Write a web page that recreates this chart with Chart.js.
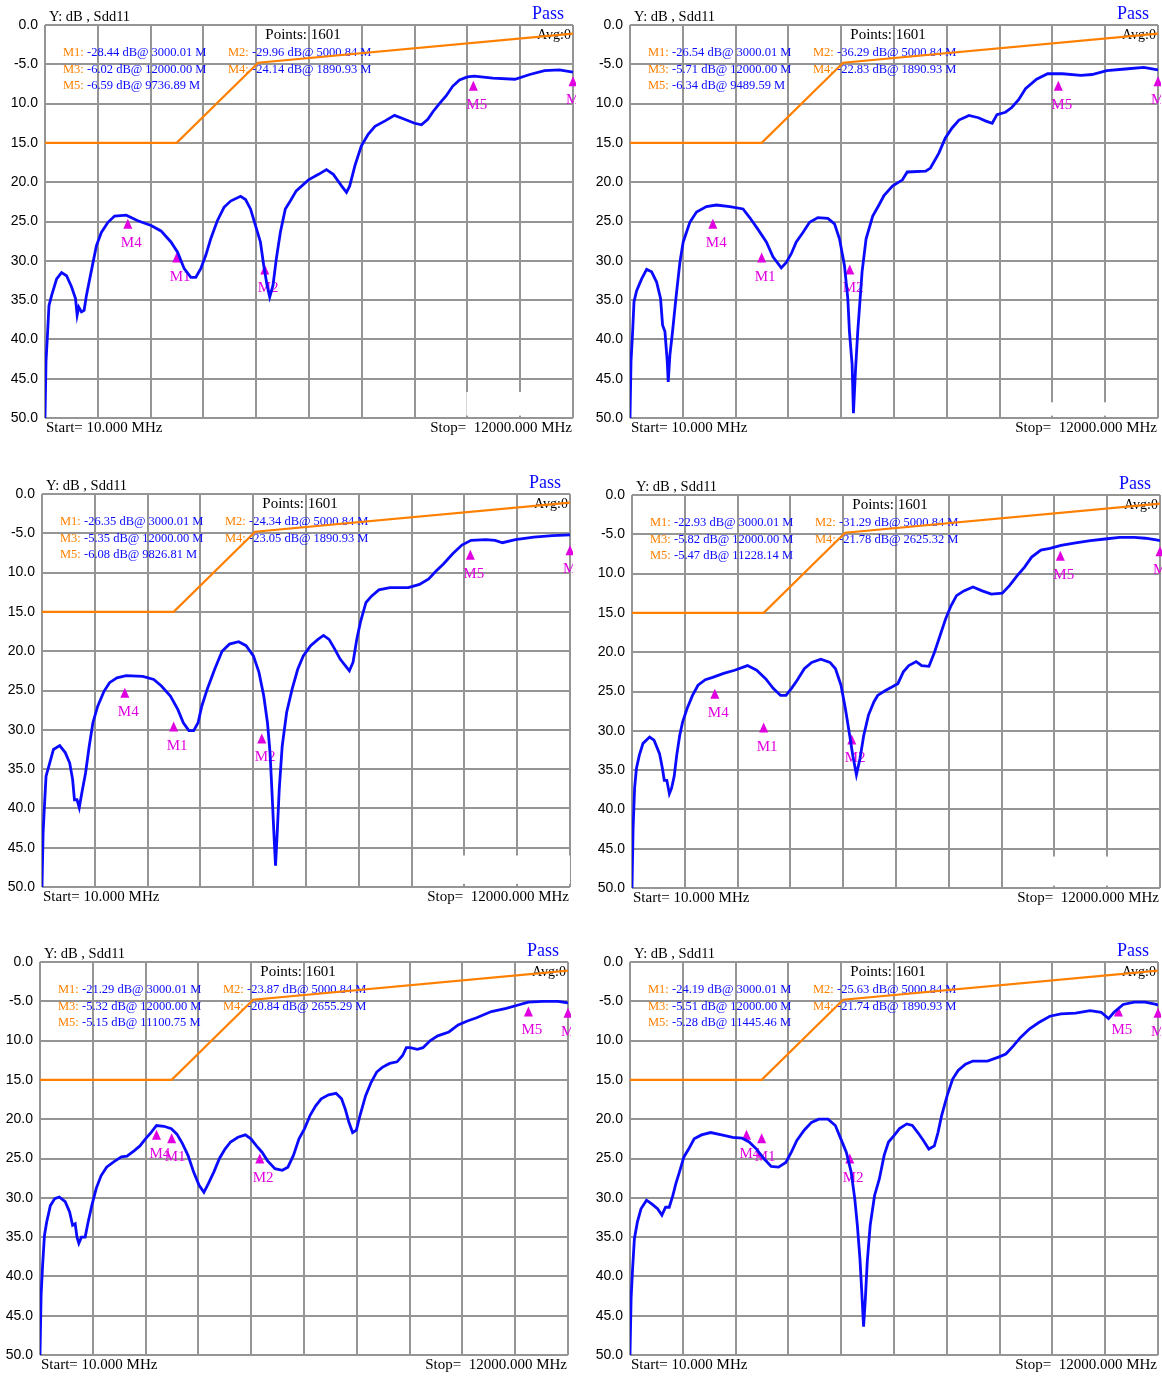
<!DOCTYPE html>
<html>
<head>
<meta charset="utf-8">
<script src="https://cdn.jsdelivr.net/npm/chart.js@4.4.1/dist/chart.umd.min.js"></script>
<style>
  html, body { margin: 0; padding: 0; background: #fff; }
  body { width: 1162px; height: 1376px; position: relative; overflow: hidden; }
  .panel { position: absolute; width: 576px; height: 468px; overflow: hidden; }
  .panel canvas { display: block; }
</style>
</head>
<body>
<div class="panel" style="left:0px;top:0px"><canvas id="c1" width="581" height="468"></canvas></div>
<div class="panel" style="left:585px;top:0px"><canvas id="c2" width="581" height="468"></canvas></div>
<div class="panel" style="left:-3px;top:469px"><canvas id="c3" width="581" height="468"></canvas></div>
<div class="panel" style="left:587px;top:470px"><canvas id="c4" width="581" height="468"></canvas></div>
<div class="panel" style="left:-5px;top:937px"><canvas id="c5" width="581" height="468"></canvas></div>
<div class="panel" style="left:585px;top:937px"><canvas id="c6" width="581" height="468"></canvas></div>
<script>
// sweep settings
const xStart = 10;
const xStop = 12000;
const xDivisions = 10;
const pointCount = 1601;
const yTickLabels = ['0.0', '-5.0', '10.0', '15.0', '20.0', '25.0', '30.0', '35.0', '40.0', '45.0', '50.0'];
const markerNames = ['M1', 'M2', 'M3', 'M4', 'M5'];

// limit line (MHz, dB)
const limitFreq = [10, 3000, 4850, 12000];
const limitDb = [-15, -15, -4.8, -1.1];

// measured Sdd11 traces, [MHz, dB]
const trace1 = [[10,-50],[33,-42.8],[70,-39.0],[100,-35.7],[161,-34.4],[274,-32.3],[386,-31.5],[499,-31.9],[612,-33.3],[703,-34.8],[740,-36.9],[778,-35.9],[838,-36.5],[898,-36.3],[951,-34.4],[1026,-32.3],[1101,-30.2],[1177,-28.1],[1289,-26.4],[1440,-25.1],[1590,-24.3],[1854,-24.2],[2118,-24.9],[2419,-25.5],[2644,-26.2],[2870,-27.6],[3021,-28.9],[3171,-31.0],[3322,-32.1],[3435,-32.1],[3547,-31.0],[3661,-29.3],[3774,-27.2],[3924,-24.9],[4075,-23.2],[4225,-22.4],[4451,-21.8],[4564,-22.2],[4677,-23.4],[4789,-25.5],[4902,-27.6],[4977,-30.6],[5053,-33.1],[5113,-34.6],[5188,-33.1],[5264,-29.7],[5354,-26.4],[5467,-23.4],[5580,-22.4],[5715,-21.1],[5993,-19.7],[6221,-19.0],[6401,-18.4],[6557,-19.0],[6748,-20.5],[6856,-21.3],[6928,-20.5],[7048,-17.9],[7192,-15.4],[7348,-13.9],[7504,-12.9],[7732,-12.2],[7947,-11.5],[8175,-12.0],[8403,-12.5],[8559,-12.7],[8703,-12.0],[8823,-11.0],[8967,-10.0],[9122,-9.0],[9266,-7.8],[9422,-7.0],[9602,-6.6],[9758,-6.5],[10178,-6.75],[10681,-6.9],[11017,-6.3],[11353,-5.8],[11688,-5.7],[12000,-6.0]];
const trace2 = [[10,-50],[33,-42.8],[70,-39.0],[101,-35.2],[161,-33.8],[274,-32.3],[388,-31.1],[501,-31.4],[614,-32.7],[704,-34.8],[750,-38.2],[803,-39.0],[856,-42.8],[878,-45.4],[916,-42.0],[976,-39.0],[1052,-34.8],[1143,-30.2],[1218,-27.6],[1369,-25.1],[1520,-23.8],[1746,-23.1],[1973,-22.9],[2275,-23.1],[2577,-23.4],[2728,-24.5],[2916,-26.0],[3106,-27.6],[3257,-29.5],[3445,-30.9],[3559,-30.2],[3672,-29.1],[3786,-27.6],[3937,-26.4],[4088,-25.1],[4276,-24.5],[4503,-24.6],[4654,-25.3],[4767,-27.2],[4880,-30.6],[4956,-34.8],[4993,-39.0],[5054,-43.2],[5084,-49.4],[5129,-44.1],[5182,-39.0],[5280,-31.4],[5371,-27.2],[5522,-24.3],[5673,-22.8],[5777,-21.7],[5969,-20.5],[6197,-19.7],[6305,-18.7],[6724,-18.6],[6832,-18.2],[7024,-16.3],[7168,-14.4],[7324,-13.1],[7480,-12.1],[7708,-11.5],[7923,-11.8],[8079,-12.2],[8235,-12.5],[8343,-11.4],[8535,-11.1],[8679,-10.5],[8835,-9.5],[8991,-8.1],[9242,-6.9],[9494,-6.2],[9830,-6.2],[10249,-6.4],[10501,-6.3],[10837,-5.8],[11257,-5.6],[11676,-5.4],[12000,-5.7]];
const trace3 = [[10,-50],[35,-43.1],[69,-39.3],[102,-35.9],[186,-34.2],[270,-32.5],[412,-32.0],[538,-32.9],[638,-34.2],[705,-36.3],[747,-38.9],[806,-38.9],[856,-39.9],[915,-38.0],[999,-35.5],[1082,-32.1],[1166,-29.1],[1275,-27.0],[1418,-25.1],[1544,-24.0],[1711,-23.4],[1920,-23.1],[2298,-23.2],[2548,-23.6],[2716,-24.4],[2926,-25.7],[3094,-27.4],[3219,-29.1],[3345,-30.1],[3454,-30.1],[3554,-29.1],[3638,-27.0],[3764,-24.8],[3931,-22.3],[4099,-20.0],[4266,-19.1],[4476,-18.8],[4644,-19.3],[4811,-20.6],[4937,-22.7],[5046,-25.7],[5130,-29.1],[5188,-32.9],[5230,-37.6],[5272,-42.7],[5313,-47.3],[5355,-42.7],[5397,-37.6],[5464,-32.1],[5565,-27.8],[5691,-24.8],[5817,-22.3],[5943,-20.6],[6110,-19.3],[6277,-18.5],[6403,-18.0],[6529,-18.5],[6655,-19.7],[6780,-21.0],[6906,-21.9],[6990,-22.5],[7074,-21.4],[7157,-18.5],[7241,-16.3],[7367,-13.8],[7492,-13.0],[7660,-12.2],[7911,-11.9],[8330,-11.9],[8582,-11.5],[8791,-10.8],[8959,-9.8],[9126,-8.9],[9336,-7.6],[9545,-6.5],[9754,-5.9],[10090,-5.8],[10299,-5.9],[10467,-6.2],[10760,-5.8],[11179,-5.5],[11598,-5.3],[12000,-5.2]];
const trace4 = [[10,-50],[35,-42.4],[69,-37.3],[110,-34.8],[177,-33.1],[260,-31.6],[410,-30.8],[510,-31.2],[635,-32.9],[701,-34.8],[743,-36.3],[801,-36.3],[859,-38.0],[909,-37.3],[968,-35.8],[1026,-33.1],[1093,-30.6],[1159,-28.9],[1259,-27.2],[1384,-25.5],[1509,-24.2],[1675,-23.5],[1842,-23.2],[2091,-22.7],[2341,-22.3],[2633,-21.7],[2841,-22.3],[3049,-23.4],[3216,-24.6],[3383,-25.5],[3507,-25.5],[3632,-24.6],[3757,-23.6],[3923,-22.1],[4090,-21.3],[4298,-20.9],[4506,-21.3],[4631,-22.1],[4756,-24.2],[4856,-27.2],[4939,-30.1],[5023,-33.1],[5106,-35.6],[5189,-33.5],[5272,-30.6],[5380,-28.0],[5505,-26.3],[5589,-25.5],[5755,-24.9],[5922,-24.4],[6047,-24.0],[6172,-22.5],[6296,-21.7],[6463,-21.2],[6588,-21.7],[6754,-21.8],[6879,-20.0],[7004,-17.9],[7129,-15.8],[7254,-14.1],[7379,-12.8],[7546,-12.2],[7753,-11.7],[7962,-12.2],[8170,-12.6],[8420,-12.5],[8587,-11.5],[8753,-10.3],[8920,-9.2],[9085,-7.9],[9294,-7.0],[9502,-6.8],[9752,-6.4],[10085,-6.1],[10419,-5.8],[10751,-5.6],[11084,-5.4],[11417,-5.4],[11667,-5.5],[11917,-5.7],[12000,-5.8]];
const trace5 = [[10,-50],[35,-42.4],[69,-38.6],[111,-34.8],[161,-33.1],[245,-31.0],[346,-30.1],[447,-29.9],[582,-30.5],[683,-31.8],[750,-33.5],[809,-33.3],[850,-35.0],[892,-35.8],[951,-35.0],[1035,-35.0],[1102,-33.1],[1186,-31.0],[1287,-28.8],[1396,-27.2],[1522,-26.1],[1691,-25.4],[1859,-24.8],[1985,-24.7],[2153,-24.0],[2279,-23.4],[2405,-22.5],[2530,-21.7],[2656,-20.8],[2825,-20.9],[2993,-21.2],[3119,-21.9],[3245,-23.1],[3371,-24.6],[3497,-26.7],[3623,-28.4],[3732,-29.3],[3833,-28.2],[3959,-26.7],[4085,-25.0],[4211,-23.8],[4337,-22.9],[4505,-22.3],[4673,-22.0],[4799,-22.5],[4926,-23.4],[5052,-24.2],[5178,-25.3],[5346,-26.3],[5513,-26.5],[5639,-26.1],[5765,-24.6],[5891,-22.5],[6018,-21.2],[6144,-19.5],[6270,-18.3],[6396,-17.4],[6564,-16.9],[6732,-16.7],[6858,-17.4],[6941,-18.7],[7025,-20.4],[7109,-21.7],[7194,-21.4],[7278,-19.5],[7404,-17.0],[7530,-15.3],[7656,-14.0],[7782,-13.4],[7950,-12.9],[8118,-12.7],[8245,-11.9],[8329,-10.9],[8413,-10.9],[8580,-11.1],[8706,-10.9],[8874,-10.0],[9042,-9.4],[9295,-8.9],[9505,-8.0],[9715,-7.5],[9925,-7.1],[10260,-6.3],[10597,-5.9],[10849,-5.5],[11101,-5.1],[11437,-5.0],[11772,-5.0],[12000,-5.2]];
const trace6 = [[10,-50],[35,-42.8],[69,-39.0],[110,-35.2],[177,-33.1],[260,-31.4],[385,-30.3],[510,-30.8],[635,-31.4],[734,-32.2],[818,-31.2],[901,-31.2],[984,-29.7],[1051,-28.2],[1134,-26.7],[1234,-24.8],[1342,-23.8],[1467,-22.5],[1633,-22.0],[1842,-21.7],[2091,-22.0],[2341,-22.3],[2549,-22.4],[2716,-22.9],[2883,-23.8],[3049,-25.0],[3216,-26.0],[3383,-26.1],[3548,-25.5],[3674,-24.2],[3799,-22.7],[3965,-21.4],[4132,-20.4],[4298,-20.0],[4506,-20.0],[4673,-20.8],[4798,-22.5],[4922,-24.2],[5031,-26.7],[5114,-30.1],[5173,-33.5],[5231,-37.7],[5281,-42.8],[5314,-46.4],[5355,-42.8],[5397,-38.2],[5464,-33.5],[5564,-29.7],[5672,-27.6],[5781,-24.6],[5880,-22.9],[6005,-22.1],[6130,-21.2],[6296,-20.6],[6421,-20.8],[6546,-21.7],[6672,-22.7],[6796,-23.8],[6921,-23.4],[7004,-21.7],[7088,-19.5],[7212,-17.0],[7337,-14.9],[7462,-13.8],[7628,-13.0],[7795,-12.6],[8128,-12.6],[8378,-12.1],[8545,-11.7],[8711,-10.7],[8878,-9.6],[9085,-8.5],[9294,-7.7],[9544,-6.9],[9794,-6.6],[10127,-6.5],[10459,-6.2],[10710,-6.4],[10877,-7.2],[11001,-6.4],[11209,-5.4],[11459,-5.1],[11709,-5.1],[11958,-5.4],[12000,-5.5]];

// marker readouts M1..M5 (MHz, dB)
const mk1Freq = [3000.01, 5000.84, 12000.00, 1890.93, 9736.89];
const mk1Db = [-28.44, -29.96, -6.02, -24.14, -6.59];
const mk2Freq = [3000.01, 5000.84, 12000.00, 1890.93, 9489.59];
const mk2Db = [-26.54, -36.29, -5.71, -22.83, -6.34];
const mk3Freq = [3000.01, 5000.84, 12000.00, 1890.93, 9826.81];
const mk3Db = [-26.35, -24.34, -5.35, -23.05, -6.08];
const mk4Freq = [3000.01, 5000.84, 12000.00, 2625.32, 11228.14];
const mk4Db = [-22.93, -31.29, -5.82, -21.78, -5.47];
const mk5Freq = [3000.01, 5000.84, 12000.00, 2655.29, 11100.75];
const mk5Db = [-21.29, -23.87, -5.32, -20.84, -5.15];
const mk6Freq = [3000.01, 5000.84, 12000.00, 1890.93, 11445.46];
const mk6Db = [-24.19, -25.63, -5.51, -21.74, -5.28];

// the marker triangles on screen were left from earlier sweeps
const panels = [
    { canvas: 'c1', trace: trace1, readFreq: mk1Freq, readDb: mk1Db, triFreq: mk1Freq, triDb: mk1Db, blank: [9602, 10860, -46.7, -49.7] },
    { canvas: 'c2', trace: trace2, readFreq: mk2Freq, readDb: mk2Db, triFreq: mk1Freq, triDb: mk1Db, blank: [9566, 10825, -48.0, -49.7] },
    { canvas: 'c3', trace: trace3, readFreq: mk3Freq, readDb: mk3Db, triFreq: mk1Freq, triDb: mk1Db, blank: [8583, 11976, -46.0, -49.6] },
    { canvas: 'c4', trace: trace4, readFreq: mk4Freq, readDb: mk4Db, triFreq: mk1Freq, triDb: mk1Db, blank: [9590, 10837, -46.0, -49.7] },
    { canvas: 'c5', trace: trace5, readFreq: mk5Freq, readDb: mk5Db, triFreq: mk5Freq, triDb: mk5Db, blank: null },
    { canvas: 'c6', trace: trace6, readFreq: mk6Freq, readDb: mk6Db, triFreq: mk5Freq, triDb: mk5Db, blank: null }
];

const xGrid = [];
for (let k = 0; k <= xDivisions; k++) xGrid.push(xStart + k * (xStop - xStart) / xDivisions);

const SERIF = '"Liberation Serif", "Times New Roman", serif';
const BLUE = '#0a0aff';
const ORANGE = '#ff8000';
const MAGENTA = '#e000e0';
const GRID = '#959595';

function panelText(p) {
    return {
        id: 'panelText',
        beforeDatasetsDraw(chart) {
            const ctx = chart.ctx;
            const a = chart.chartArea;
            const x = chart.scales.x;
            const y = chart.scales.y;
            ctx.save();

            if (p.blank) {
                const x0 = x.getPixelForValue(p.blank[0]);
                const x1 = x.getPixelForValue(p.blank[1]);
                const y0 = y.getPixelForValue(p.blank[2]);
                const y1 = y.getPixelForValue(p.blank[3]);
                ctx.fillStyle = '#fff';
                ctx.fillRect(x0 - 1, y0, x1 - x0 + 2, y1 - y0);
            }

            ctx.textBaseline = 'alphabetic';
            ctx.textAlign = 'left';
            ctx.fillStyle = '#000';
            ctx.font = '14.5px ' + SERIF;
            ctx.fillText('Y: dB , Sdd11', a.left + 4, a.top - 4);

            ctx.textAlign = 'center';
            ctx.fillStyle = BLUE;
            ctx.font = '18px ' + SERIF;
            ctx.fillText('Pass', a.left + 503, a.top - 6);

            ctx.fillStyle = '#000';
            ctx.font = '15px ' + SERIF;
            ctx.fillText('Points: ' + pointCount, a.left + 258, a.top + 14);

            ctx.textAlign = 'right';
            ctx.font = '14px ' + SERIF;
            ctx.fillText('Avg:0', a.right - 2, a.top + 14);

            // marker readout table
            ctx.textAlign = 'left';
            ctx.font = '12.5px ' + SERIF;
            p.readDb.forEach((db, i) => {
                const col = i % 2;
                const row = Math.floor(i / 2);
                const tx = a.left + (col ? 183 : 18);
                const ty = a.top + 31 + row * 16.5;
                const tag = markerNames[i] + ': ';
                ctx.fillStyle = ORANGE;
                ctx.fillText(tag, tx, ty);
                ctx.fillStyle = BLUE;
                ctx.fillText(db.toFixed(2) + ' dB@ ' + p.readFreq[i].toFixed(2) + ' M', tx + ctx.measureText(tag).width, ty);
            });

            // marker triangles
            ctx.fillStyle = MAGENTA;
            ctx.font = '15px ' + SERIF;
            p.triFreq.forEach((f, i) => {
                const px = x.getPixelForValue(f);
                const py = y.getPixelForValue(p.triDb[i]);
                ctx.beginPath();
                ctx.moveTo(px, py + 4);
                ctx.lineTo(px - 4.5, py + 14);
                ctx.lineTo(px + 4.5, py + 14);
                ctx.closePath();
                ctx.fill();
                ctx.fillText(markerNames[i], px - 7, py + 32);
            });

            ctx.fillStyle = '#000';
            ctx.font = '15px ' + SERIF;
            ctx.fillText('Start= ' + xStart.toFixed(3) + ' MHz', a.left + 1, a.bottom + 14);
            ctx.textAlign = 'right';
            ctx.fillText('Stop=  ' + xStop.toFixed(3) + ' MHz', a.right - 1, a.bottom + 14);
            ctx.restore();
        }
    };
}

function drawPanel(p) {
    const canvas = document.getElementById(p.canvas);
    new Chart(canvas, {
        type: 'line',
        data: {
            datasets: [
                {
                    label: 'Sdd11',
                    data: p.trace.map(pt => ({ x: pt[0], y: pt[1] })),
                    borderColor: BLUE,
                    borderWidth: 2.8,
                    pointRadius: 0,
                    tension: 0
                },
                {
                    label: 'Limit',
                    data: limitFreq.map((f, i) => ({ x: f, y: limitDb[i] })),
                    borderColor: ORANGE,
                    borderWidth: 2.2,
                    pointRadius: 0,
                    tension: 0
                }
            ]
        },
        options: {
            responsive: false,
            animation: false,
            devicePixelRatio: 1,
            layout: { padding: { left: 0, top: 25, right: canvas.width - 45 - 528, bottom: canvas.height - 418 } },
            scales: {
                x: {
                    type: 'linear',
                    min: xStart,
                    max: xStop,
                    afterBuildTicks: axis => { axis.ticks = xGrid.map(v => ({ value: v })); },
                    afterFit: axis => { axis.height = 0; },
                    ticks: { display: false },
                    grid: { color: GRID, lineWidth: 2, drawTicks: false },
                    border: { display: false }
                },
                y: {
                    type: 'linear',
                    min: -50,
                    max: 0,
                    afterFit: axis => { axis.width = 45; },
                    ticks: {
                        stepSize: 5,
                        padding: 7,
                        color: '#000',
                        font: { family: '"Liberation Sans", Arial, sans-serif', size: 14 },
                        callback: value => yTickLabels[Math.round(-value / 5)]
                    },
                    grid: { color: GRID, lineWidth: 2, drawTicks: false },
                    border: { display: false }
                }
            },
            plugins: {
                legend: { display: false },
                tooltip: { enabled: false }
            }
        },
        plugins: [panelText(p)]
    });
}

panels.forEach(drawPanel);
</script>
</body>
</html>
